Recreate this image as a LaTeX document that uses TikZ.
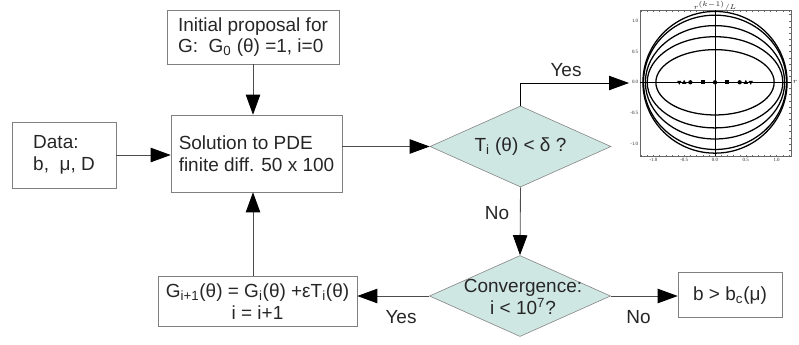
\documentclass[tikz,border=0pt]{standalone}
\usepackage{fontspec}
\setmainfont{Liberation Sans}
\newfontfamily\plotfont{Liberation Serif}
\usetikzlibrary{shapes.geometric, arrows.meta}
\definecolor{decfill}{RGB}{207,231,226}
\definecolor{boxline}{RGB}{128,128,128}

\begin{document}
\begin{tikzpicture}[x=0.025cm, y=-0.025cm,
    font=\fontsize{13.5}{15.5}\selectfont, text=black!85,
    >={Triangle[length=5mm, width=3.6mm, color=black]},
    box/.style={draw=boxline, rectangle, inner sep=0pt},
    decision/.style={draw=boxline, fill=decfill, diamond, inner sep=0pt,
        minimum width=4.525cm, minimum height=2.025cm, aspect=2.23},
    link/.style={->, draw=black!70, line width=0.6pt}]
    \useasboundingbox (0,0) rectangle (799,344);

    % Boxes
    \node[box, minimum width=4.3cm, minimum height=1.35cm, align=left] (init) at (253, 37)
        {Initial proposal for\\G:\ \ G\textsubscript{0} (θ) =1, i=0};
    \node[box, minimum width=2.6cm, minimum height=1.65cm, align=left] (data) at (64, 155)
        {Data:\\b,\ \ μ, D};
    \node[box, minimum width=4.275cm, minimum height=1.925cm, align=left] (sol) at (256.5, 153.5)
        {Solution to PDE\\finite diff. 50 x 100};
    \node[box, minimum width=4.975cm, minimum height=1.27cm, align=center] (upd) at (257.5, 301.3)
        {G\textsubscript{i+1}(θ) = G\textsubscript{i}(θ) +εT\textsubscript{i}(θ)\\i = i+1};
    \node[box, minimum width=2.6cm, minimum height=1.125cm] (res) at (730, 295.2)
        {b > b\textsubscript{c}(μ)};

    % Decisions
    \node[decision] (tol) at (520.5, 146.5) {T\textsubscript{i} (θ) < δ ?};
    \node[decision] (conv) at (520, 296) {};
    \node[align=center, font=\fontsize{13.5}{14.5}\selectfont] (convtxt) at (523, 297)
        {Convergence:\\i < 10\textsuperscript{7}?};

    % Free end next to the plot
    \coordinate (plotin) at (629, 83);

    % Connections
    \draw[link] (init.south) -- (init.south |- sol.north);
    \draw[link] (data.east) -- (data.east -| sol.west);
    \draw[link] (sol.east |- tol.west) -- (tol.west);
    \draw[link, draw=black] (tol.north) |- (plotin);
    \draw[link] (tol.south) -- (conv.north);
    \draw[link] (conv.west) -- (conv.west -| upd.east);
    \draw[link] (conv.east) -- (conv.east -| res.west);
    \draw[link] (upd.north -| init.south) -- (init.south |- sol.south);

    % Labels
    \node (yes1) at (566, 70) {Yes};
    \node (no1) at (497, 213) {No};
    \node (yes2) at (401, 317.5) {Yes};
    \node (no2) at (638.5, 317.5) {No};

    % Plot of the converged shapes
    \begin{scope}[shift={(715,82.3)}, x=1.54cm, y=1.54cm,
        font=\plotfont\fontsize{3.5}{4}\selectfont]
        \draw[black!60, line width=0.3pt] (-1.22,-1.2) rectangle (1.23,1.17);
        \foreach \t in {-1.2,-1.1,...,1.21} {
            \draw[black!60, line width=0.2pt] (\t,-1.2) -- ++(0,0.025) (\t,1.17) -- ++(0,-0.025);
        }
        \foreach \t in {-1.1,-1.0,...,1.11} {
            \draw[black!60, line width=0.2pt] (-1.22,\t) -- ++(0.025,0) (1.23,\t) -- ++(-0.025,0);
        }
        \foreach \t/\s in {-1/-1.0,-0.5/-0.5,0/0.0,0.5/0.5,1/1.0} {
            \node[anchor=east, inner sep=1pt] at (-1.22,\t) {\s};
            \node[anchor=north, inner sep=1.5pt] at (\t,-1.2) {\s};
        }
        \node[inner sep=0pt] (ptitle) at (0,1.23) {$r^{(k-1)}/L$};
        \node[inner sep=0pt] (paxis) at (1.3,0) {$r$};
        \draw[line width=0.4pt] (-1.22,0) -- (1.23,0) (0,-1.2) -- (0,1.17);
        \foreach \a/\b in {0.96/0.53, 1.10/0.74, 1.13/0.92, 1.16/1.09, 1.17/1.15} {
            \draw[line width=0.9pt] (0,0) ellipse [x radius=\a, y radius=\b];
        }
        \foreach \s in {-1,1} {
            \fill (\s*0.4,0) circle (0.035);
            \fill (\s*0.2,0) +(-0.03,-0.03) rectangle +(0.03,0.03);
            \fill (\s*0.5,0) +(-0.035,-0.025) -- +(0.035,-0.025) -- +(0,0.04) -- cycle;
            \fill (\s*0.58,0) +(-0.035,0.025) -- +(0.035,0.025) -- +(0,-0.04) -- cycle;
        }
        \fill (0,0) circle (0.035);
    \end{scope}
\end{tikzpicture}
\end{document}
